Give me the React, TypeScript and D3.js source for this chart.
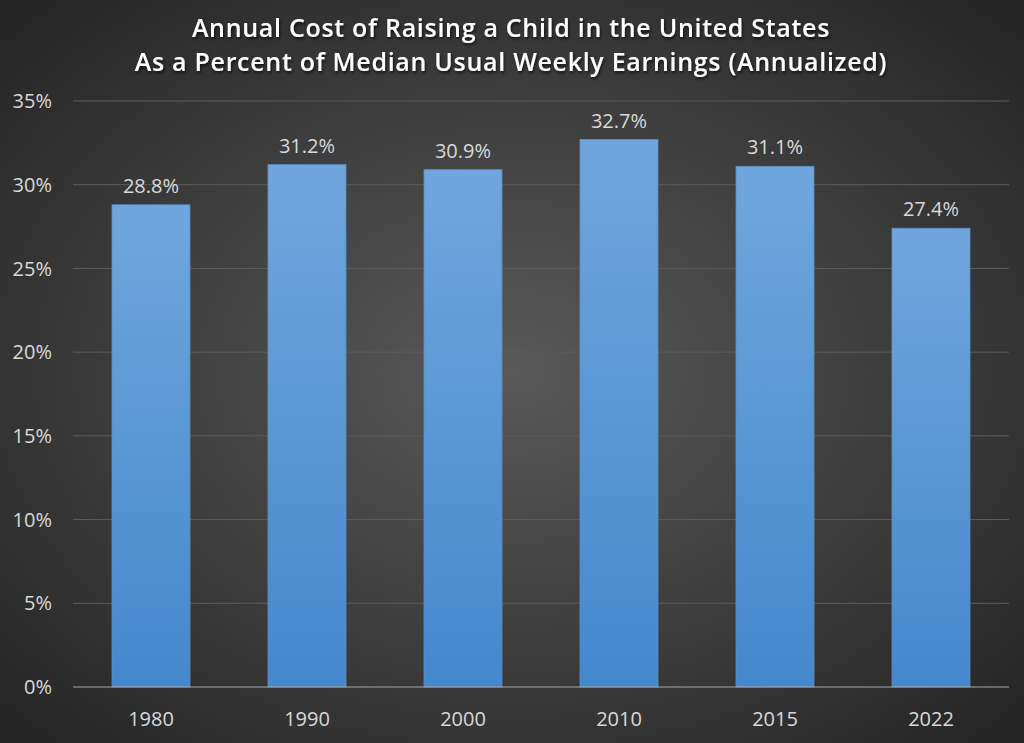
import { useMemo } from 'react';
import * as d3 from 'd3';

const years = ['1980', '1990', '2000', '2010', '2015', '2022'];
const shares = [28.8, 31.2, 30.9, 32.7, 31.1, 27.4];
const yTicks = [0, 5, 10, 15, 20, 25, 30, 35];
const titleLines = [
  'Annual Cost of Raising a Child in the United States',
  'As a Percent of Median Usual Weekly Earnings (Annualized)',
];

const W = 1024;
const H = 743;
const margin = { top: 101, right: 15, bottom: 56, left: 73 };

export default function App() {
  const innerW = W - margin.left - margin.right;
  const innerH = H - margin.top - margin.bottom;

  const x = useMemo(() => d3.scaleBand<string>().domain(years).range([0, innerW]).paddingInner(0.5).paddingOuter(0.25), [innerW]);
  const y = useMemo(() => d3.scaleLinear().domain([0, 35]).range([innerH, 0]), [innerH]);

  const font = '"Open Sans", "Noto Sans", sans-serif';

  return (
    <svg width={W} height={H} style={{ position: 'absolute', top: 0, left: 0, display: 'block' }} fontFamily={font}>
      <defs>
        <radialGradient id="bg" cx="50%" cy="50%" r="70%">
          <stop offset="0%" stopColor="#595959" />
          <stop offset="100%" stopColor="#242424" />
        </radialGradient>
        <linearGradient id="bar" x1="0" y1="0" x2="0" y2="1">
          <stop offset="0%" stopColor="#70a6dd" />
          <stop offset="100%" stopColor="#4488cd" />
        </linearGradient>
        <filter id="shadow" x="-5%" y="-20%" width="110%" height="150%">
          <feDropShadow dx="1" dy="2" stdDeviation="1.5" floodColor="#000" floodOpacity="0.7" />
        </filter>
      </defs>
      <rect width={W} height={H} fill="url(#bg)" />

      <g filter="url(#shadow)" fill="#ffffff" fontWeight={600} fontSize={25} letterSpacing={0.7} textAnchor="middle">
        {titleLines.map((t, i) => (
          <text key={i} x={W / 2 - 1} y={37 + i * 34}>{t}</text>
        ))}
      </g>

      <g transform={`translate(${margin.left},${margin.top})`}>
        {yTicks.map((t) => (
          <g key={t}>
            {t > 0 && <line x1={0} x2={innerW} y1={y(t)} y2={y(t)} stroke="#5c5c5c" strokeWidth={1} />}
            <text x={-21} y={y(t)} dy="0.36em" textAnchor="end" fill="#d9d9d9" fontSize={20}>{t}%</text>
          </g>
        ))}

        {years.map((yr, i) => {
          const v = shares[i];
          const bx = x(yr) ?? 0;
          return (
            <g key={yr}>
              <rect x={bx} y={y(v)} width={x.bandwidth()} height={innerH - y(v)} fill="url(#bar)" stroke="#5d8fc4" strokeWidth={0.8} />
              <text x={bx + x.bandwidth() / 2} y={y(v) - 12} textAnchor="middle" fill="#d9d9d9" fontSize={20}>{v.toFixed(1)}%</text>
              <text x={bx + x.bandwidth() / 2} y={innerH + 39} textAnchor="middle" fill="#d9d9d9" fontSize={20}>{yr}</text>
            </g>
          );
        })}

        <line x1={0} x2={innerW} y1={innerH} y2={innerH} stroke="#a6a6a6" strokeWidth={1.2} />
      </g>
    </svg>
  );
}
